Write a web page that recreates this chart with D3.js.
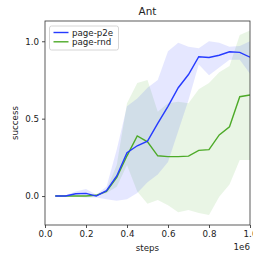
<!DOCTYPE html>
<html>
<head>
<meta charset="utf-8">
<script src="https://cdn.jsdelivr.net/npm/d3@7"></script>
<style>
  body { margin: 0; background: #fff; }
  svg { display: block; font-family: "DejaVu Sans", sans-serif; }
</style>
</head>
<body>
<svg id="chart"></svg>
<script>
// training steps, evaluated every 50k
var steps = [50000, 100000, 150000, 200000, 250000, 300000, 350000, 400000, 450000, 500000,
             550000, 600000, 650000, 700000, 750000, 800000, 850000, 900000, 950000, 1000000];

var p2eMean = [0, 0, 0.015, 0.017, 0, 0.035, 0.13, 0.28, 0.325, 0.355,
               0.47, 0.58, 0.70, 0.785, 0.90, 0.895, 0.91, 0.932, 0.928, 0.897];
var p2eHigh = [0, 0.005, 0.03, 0.045, 0.01, 0.06, 0.30, 0.58, 0.63, 0.70,
               0.75, 0.935, 0.99, 0.965, 0.955, 1.0, 0.99, 0.965, 0.97, 1.0];
var p2eLow  = [0, -0.005, -0.005, -0.01, -0.01, -0.02, -0.03, -0.02, 0.02, 0.09,
               0.14, 0.22, 0.42, 0.62, 0.85, 0.78, 0.83, 0.88, 0.88, 0.79];

var rndMean = [0, 0, 0, 0, 0.005, 0.03, 0.12, 0.26, 0.388, 0.35,
               0.26, 0.255, 0.255, 0.258, 0.295, 0.30, 0.395, 0.448, 0.642, 0.653];
var rndHigh = [0, 0, 0, 0, 0.01, 0.04, 0.2, 0.6, 0.73, 0.75,
               0.545, 0.60, 0.61, 0.60, 0.69, 0.73, 0.80, 0.84, 1.04, 1.07];
var rndLow  = [0, 0, 0, 0, 0, 0.02, 0.06, 0.2, 0.03, -0.05,
               -0.025, -0.06, -0.105, -0.09, -0.11, -0.123, -0.004, 0.075, 0.233, 0.233];

var xTicks = [0, 0.2e6, 0.4e6, 0.6e6, 0.8e6, 1e6];
var yTicks = [0, 0.5, 1.0];

var series = [
    { name: "page-p2e", color: "#263bff", mean: p2eMean, lo: p2eLow, hi: p2eHigh },
    { name: "page-rnd", color: "#4daa28", mean: rndMean, lo: rndLow, hi: rndHigh }
];

var size = { width: 253, height: 254, top: 21, bottom: 29, left: 45, right: 3 };
var fontSize = 8.7;

var svg = d3.select("#chart")
    .attr("width", size.width)
    .attr("height", size.height);

var x = d3.scaleLinear()
    .domain([0, 1e6])
    .range([size.left, size.width - size.right]);

var y = d3.scaleLinear()
    .domain([-0.187, 1.131])
    .range([size.height - size.bottom, size.top]);

svg.append("clipPath").attr("id", "plot-clip")
    .append("rect")
    .attr("x", x.range()[0]).attr("y", y.range()[1])
    .attr("width", x.range()[1] - x.range()[0])
    .attr("height", y.range()[0] - y.range()[1]);

var plot = svg.append("g").attr("clip-path", "url(#plot-clip)");

// shaded bands (rnd first, p2e on top)
var area = d3.area()
    .x(function(d) { return x(d.step); })
    .y0(function(d) { return y(d.lo); })
    .y1(function(d) { return y(d.hi); });

var line = d3.line()
    .x(function(d) { return x(d.step); })
    .y(function(d) { return y(d.v); });

function rows(s) {
    return steps.map(function(st, i) {
        return { step: st, v: s.mean[i], lo: s.lo[i], hi: s.hi[i] };
    });
}

series.slice().reverse().forEach(function(s) {
    plot.append("path")
        .datum(rows(s))
        .attr("d", area)
        .attr("fill", s.color)
        .attr("fill-opacity", 0.12);
});

series.slice().reverse().forEach(function(s) {
    plot.append("path")
        .datum(rows(s))
        .attr("d", line)
        .attr("fill", "none")
        .attr("stroke", s.color)
        .attr("stroke-width", 1.4);
});

// axes
var xAxis = d3.axisBottom(x)
    .tickValues(xTicks)
    .tickFormat(function(d) { return (d / 1e6).toFixed(1); })
    .tickSize(3)
    .tickPadding(3);

var yAxis = d3.axisLeft(y)
    .tickValues(yTicks)
    .tickFormat(d3.format(".1f"))
    .tickSize(3)
    .tickPadding(3);

svg.append("g")
    .attr("class", "x-axis")
    .attr("transform", "translate(0," + y.range()[0] + ")")
    .call(xAxis);

svg.append("g")
    .attr("class", "y-axis")
    .attr("transform", "translate(" + x.range()[0] + ",0)")
    .call(yAxis);

svg.selectAll(".x-axis .domain, .y-axis .domain").remove();
svg.selectAll(".tick line").attr("stroke", "#222").attr("stroke-width", 0.8);
svg.selectAll(".tick text")
    .attr("fill", "#222")
    .style("font-size", fontSize + "px")
    .style("font-family", "DejaVu Sans, sans-serif");

// frame
svg.append("rect")
    .attr("x", x.range()[0]).attr("y", y.range()[1])
    .attr("width", x.range()[1] - x.range()[0])
    .attr("height", y.range()[0] - y.range()[1])
    .attr("fill", "none")
    .attr("stroke", "#333")
    .attr("stroke-width", 0.8);

// labels
svg.append("text")
    .attr("x", (x.range()[0] + x.range()[1]) / 2)
    .attr("y", 15)
    .attr("text-anchor", "middle")
    .style("font-size", "10.4px")
    .attr("fill", "#222")
    .text("Ant");

svg.append("text")
    .attr("x", (x.range()[0] + x.range()[1]) / 2)
    .attr("y", 251)
    .attr("text-anchor", "middle")
    .style("font-size", fontSize + "px")
    .attr("fill", "#222")
    .text("steps");

svg.append("text")
    .attr("x", x.range()[1])
    .attr("y", 250)
    .attr("text-anchor", "end")
    .style("font-size", fontSize + "px")
    .attr("fill", "#222")
    .text("1e6");

svg.append("text")
    .attr("transform", "translate(18," + ((y.range()[0] + y.range()[1]) / 2) + ") rotate(-90)")
    .attr("text-anchor", "middle")
    .style("font-size", fontSize + "px")
    .attr("fill", "#222")
    .text("success");

// legend
var legend = svg.append("g").attr("transform", "translate(49.5,26)");
legend.append("rect")
    .attr("width", 69).attr("height", 24)
    .attr("rx", 2)
    .attr("fill", "#fff").attr("fill-opacity", 0.8)
    .attr("stroke", "#ccc").attr("stroke-width", 0.8);

var items = legend.selectAll(".item")
    .data(series)
    .enter()
    .append("g")
    .attr("transform", function(d, i) { return "translate(0," + (6.5 + i * 9.3) + ")"; });

items.append("line")
    .attr("x1", 4).attr("x2", 19)
    .attr("stroke", function(d) { return d.color; })
    .attr("stroke-width", 1.4);

items.append("text")
    .attr("x", 22.5)
    .attr("dy", "0.35em")
    .style("font-size", fontSize + "px")
    .attr("fill", "#222")
    .text(function(d) { return d.name; });
</script>
</body>
</html>
